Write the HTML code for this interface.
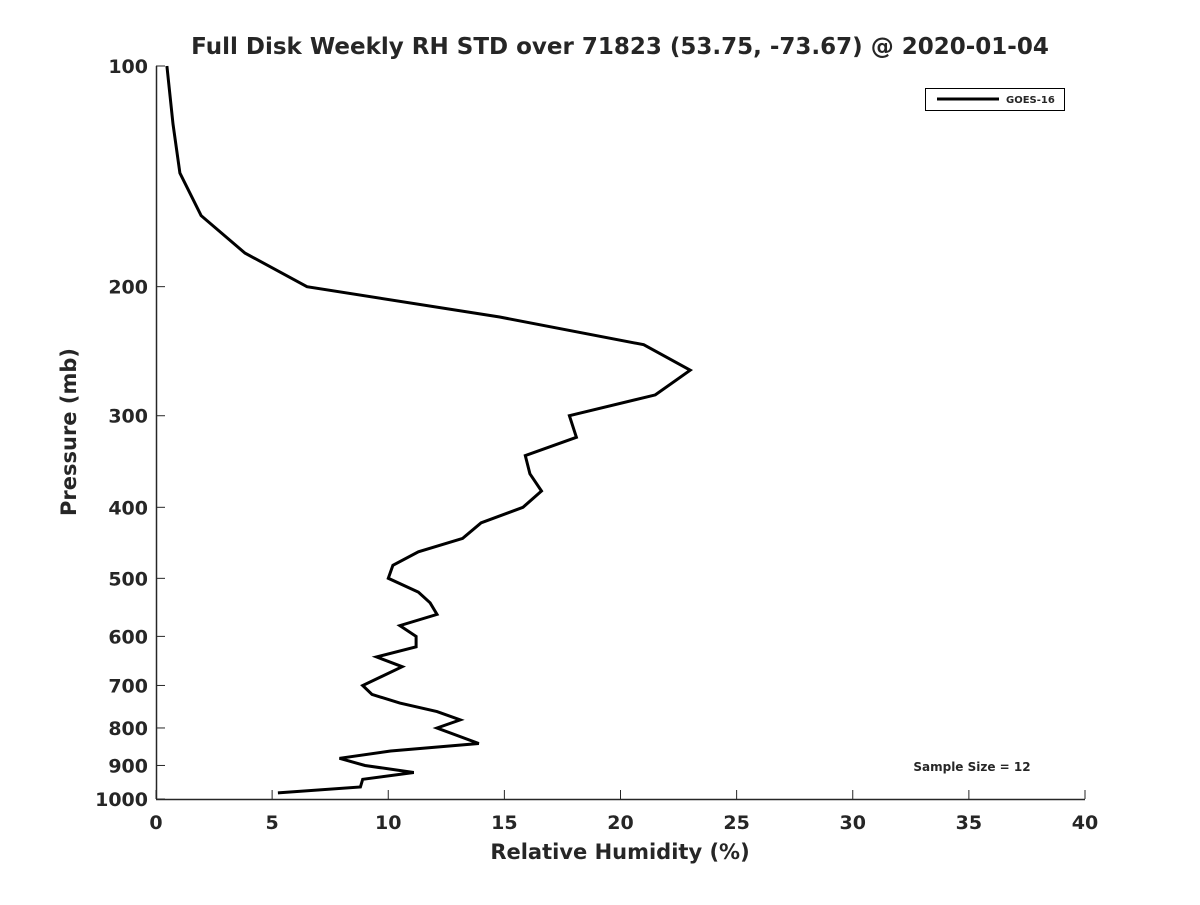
<!DOCTYPE html>
<html><head><meta charset="utf-8"><style>
body{margin:0;background:#fff;}
svg text{font-family:"DejaVu Sans","Liberation Sans",sans-serif;font-weight:bold;fill:#262626;}
</style></head><body>
<svg id="chart" width="1200" height="900" xmlns="http://www.w3.org/2000/svg">
<rect width="1200" height="900" fill="#fff"/>
<text x="620" y="54" font-size="23" text-anchor="middle" fill="#000">Full Disk Weekly RH STD over 71823 (53.75, -73.67) @ 2020-01-04</text>
<g id="axes"></g>
<path id="series" fill="none" stroke="#000" stroke-width="3" stroke-linejoin="miter"/>
<g>
<rect x="925.5" y="88.5" width="139" height="22" fill="#fff" stroke="#000" stroke-width="1"/>
<line x1="937" y1="99" x2="999" y2="99" stroke="#000" stroke-width="3"/>
<text x="1006" y="103" font-size="10" fill="#000">GOES-16</text>
</g>
<text x="972" y="771" font-size="12" text-anchor="middle" fill="#000">Sample Size = 12</text>
<text x="620" y="859" font-size="21" text-anchor="middle">Relative Humidity (%)</text>
<text transform="translate(76,432) rotate(-90)" font-size="21" text-anchor="middle">Pressure (mb)</text>
</svg>
<script>
const rhValues=[0.47,0.73,1.03,1.94,3.83,6.5,14.8,21.0,23.0,21.5,17.8,18.1,15.9,16.1,16.6,15.8,14.0,13.2,11.3,10.2,10.0,11.3,11.8,12.1,10.5,11.2,11.2,9.5,10.6,8.9,9.3,10.5,12.1,13.1,12.1,13.9,10.1,7.9,9.0,11.1,8.9,8.8,5.25];
const pressures=[100,120,140,160,180,200,220,240,260,281,300,321,340,360,380,400,420,441,460,480,500,522,540,560,580,600,620,640,660,700,720,740,760,780,800,840,860,880,900,920,940,963,981];
const xTicks=[0,5,10,15,20,25,30,35,40];
const yTicks=[100,200,300,400,500,600,700,800,900,1000];
const L=156,R=1085,T=66,B=799;
const xs=v=>L+(v-0)/40*(R-L);
const ys=p=>T+(Math.log10(p)-2)*(B-T);
const ns="http://www.w3.org/2000/svg";
const ax=document.getElementById('axes');
function mk(tag,attrs){const e=document.createElementNS(ns,tag);for(const k in attrs)e.setAttribute(k,attrs[k]);ax.appendChild(e);return e;}
let a=mk('line',{x1:L,y1:B+0.5,x2:R,y2:B+0.5,stroke:'#262626','stroke-width':1.5});

a=mk('line',{x1:L+0.5,y1:T,x2:L+0.5,y2:B,stroke:'#262626','stroke-width':1.5});

xTicks.forEach(v=>{const x=xs(v);
 const t=mk('line',{x1:x,y1:B,x2:x,y2:B-9,stroke:'#262626','stroke-width':1});
 
 const l=mk('text',{x:x,y:B+30,'font-size':19,'text-anchor':'middle'});l.textContent=v;
 });
yTicks.forEach(p=>{const y=ys(p);
 const t=mk('line',{x1:L,y1:y,x2:L+9,y2:y,stroke:'#262626','stroke-width':1});
 
 const l=mk('text',{x:L-8,y:y+7,'font-size':19,'text-anchor':'end'});l.textContent=p;
 });
document.getElementById('series').setAttribute('d',rhValues.map((v,i)=>(i?'L':'M')+xs(v).toFixed(1)+','+ys(pressures[i]).toFixed(1)).join(''));
</script>
</body></html>
